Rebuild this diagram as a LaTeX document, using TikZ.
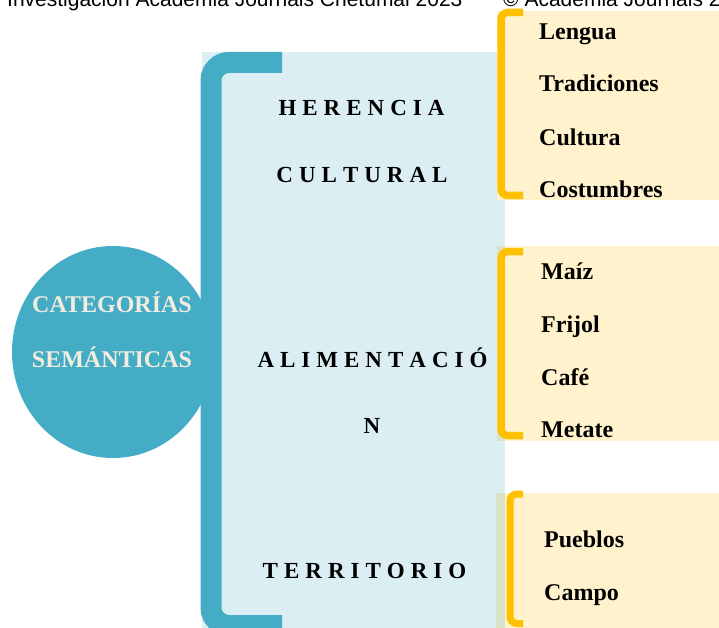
\documentclass[tikz,border=0pt]{standalone}
\usepackage{fontspec}
\setmainfont{Liberation Serif}
\newfontfamily\arialfont{Liberation Sans}
\usetikzlibrary{shapes.geometric}
\definecolor{tealc}{HTML}{44ACC5}
\definecolor{lightblue}{HTML}{DAEEF3}
\definecolor{creamc}{HTML}{FFF2CC}
\definecolor{overlapc}{HTML}{D9E3C8}
\definecolor{orangec}{HTML}{FFC000}
\definecolor{circletext}{HTML}{F3ECDF}
\newcommand{\lsgap}{\hspace{6pt}}
\begin{document}
\begin{tikzpicture}[x=1pt,y=-1pt,
  cattext/.style={font=\bfseries\fontsize{23}{27}\selectfont, inner sep=0pt, anchor=base, text=black},
  itemtext/.style={font=\bfseries\fontsize{24}{28}\selectfont, inner sep=0pt, anchor=base west, text=black},
  circtext/.style={font=\bfseries\fontsize{24}{28}\selectfont, inner sep=0pt, anchor=base, text=circletext},
  hdrtext/.style={font=\arialfont\fontsize{21}{25}\selectfont, inner sep=0pt, anchor=base west, text=black},
  tealbracket/.style={draw=tealc, line width=21pt, rounded corners=18pt},
  orangebracket/.style={draw=orangec, line width=7.5pt, rounded corners=7pt}]
\useasboundingbox (0,0) rectangle (719,628);
\clip (0,0) rectangle (719,628);
\fill[white] (0,0) rectangle (719,628);

% header (cut off at the top edge, as in the reference)
\node[hdrtext] (hdr1) at (7,7) {Investigación Academia Journals Chetumal 2023};
\node[hdrtext] (hdr2) at (503,7) {© Academia Journals 2023};

% light blue panel
\fill[lightblue] (202,52) rectangle (505,628);

% circle
\node[ellipse, fill=tealc, minimum width=202pt, minimum height=212pt, inner sep=0pt] (circ) at (113,352) {};
\node[circtext] (c1) at (112,312) {CATEGORÍAS};
\node[circtext] (c2) at (112,367) {SEMÁNTICAS};

% teal bracket
\path[tealbracket] (282,62.5) -- (211,62.5) -- (211,625.5) -- (282,625.5);

% category labels
\node[cattext] (h1) at (361.5,116) {H\lsgap E\lsgap R\lsgap E\lsgap N\lsgap C\lsgap I\lsgap A};
\node[cattext] (h2) at (362,183) {C\lsgap U\lsgap L\lsgap T\lsgap U\lsgap R\lsgap A\lsgap L};
\node[cattext] (a1) at (372.5,367) {A\lsgap L\lsgap I\lsgap M\lsgap E\lsgap N\lsgap T\lsgap A\lsgap C\lsgap I\lsgap Ó};
\node[cattext] (a2) at (372,433) {N};
\node[cattext] (t1) at (364.5,578) {T\lsgap E\lsgap R\lsgap R\lsgap I\lsgap T\lsgap O\lsgap R\lsgap I\lsgap O};

% cream boxes
\fill[creamc] (497,11) rectangle (719,200);
\fill[creamc] (497,246) rectangle (719,441);
\fill[overlapc] (497,246) rectangle (505,441);
\fill[creamc] (496,493) rectangle (719,628);
\fill[overlapc] (496,493) rectangle (505,628);

% orange brackets
\path[orangebracket] (523,12.5) -- (501,12.5) -- (501,195.5) -- (523,195.5);
\path[orangebracket] (523,251.5) -- (501,251.5) -- (501,435.5) -- (523,435.5);
\path[orangebracket, line width=7pt] (523,494) -- (510,494) -- (510,623.5) -- (523,623.5);

% items
\node[itemtext] (i1) at (539,40) {Lengua};
\node[itemtext] (i2) at (539,92) {Tradiciones};
\node[itemtext] (i3) at (539,146) {Cultura};
\node[itemtext] (i4) at (539,198) {Costumbres};
\node[itemtext] (j1) at (541,279) {Maíz};
\node[itemtext] (j2) at (541,332) {Frijol};
\node[itemtext] (j3) at (541,385) {Café};
\node[itemtext] (j4) at (541,437) {Metate};
\node[itemtext] (k1) at (544,547) {Pueblos};
\node[itemtext] (k2) at (544,600) {Campo};
\end{tikzpicture}
\end{document}
